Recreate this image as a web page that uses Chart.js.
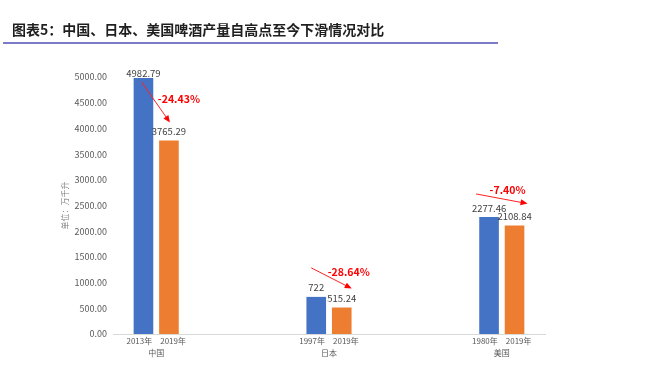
<!DOCTYPE html>
<html>
<head>
<meta charset="utf-8">
<script src="https://cdn.jsdelivr.net/npm/chart.js@4/dist/chart.umd.min.js"></script>
<style>
  body { margin: 0; background: #fff; }
  #wrap { position: relative; width: 649px; height: 367px; }
  #title {
    position: absolute; left: 12px; top: 19px;
    font: bold 14px "Noto Sans CJK SC", sans-serif; color: #1f1f1f;
    white-space: nowrap;
  }
  #rule { position: absolute; left: 3px; top: 42px; width: 495px; height: 2px; background: #7b7bc8; }
  #chart { position: absolute; left: 0; top: 0; }
</style>
</head>
<body>
<div id="wrap">
  <canvas id="chart" width="649" height="367"></canvas>
  <div id="title">图表5：中国、日本、美国啤酒产量自高点至今下滑情况对比</div>
  <div id="rule"></div>
</div>
<script>
// 数据
const countries = ['中国', '日本', '美国'];
const peakYears = ['2013年', '1997年', '1980年'];
const latestYears = ['2019年', '2019年', '2019年'];
const peakValues = [4982.79, 722, 2277.46];
const latestValues = [3765.29, 515.24, 2108.84];
const changeLabels = ['-24.43%', '-28.64%', '-7.40%'];
const yTicks = [0, 500, 1000, 1500, 2000, 2500, 3000, 3500, 4000, 4500, 5000];

// 每个国家之间留一个空位
const labels = [];
const peakData = [];
const latestData = [];
countries.forEach((c, i) => {
    if (i > 0) {
        labels.push(['', '']);
        peakData.push(null);
        latestData.push(null);
    }
    labels.push([peakYears[i] + '\u2003' + latestYears[i], c]);
    peakData.push(peakValues[i]);
    latestData.push(latestValues[i]);
});

// 柱顶数值标签
const valueLabels = {
    id: 'valueLabels',
    afterDatasetsDraw(chart) {
        const ctx = chart.ctx;
        ctx.save();
        ctx.font = '9.5px "Noto Sans CJK SC", sans-serif';
        ctx.fillStyle = '#404040';
        ctx.textAlign = 'center';
        ctx.textBaseline = 'middle';
        chart.data.datasets.forEach((ds, di) => {
            chart.getDatasetMeta(di).data.forEach((bar, j) => {
                if (ds.data[j] == null) return;
                const dy = ds.data[j] > 4500 ? 4 : 9;
                ctx.fillText(String(ds.data[j]), bar.x, bar.y - dy);
            });
        });
        ctx.restore();
    }
};

// 红色箭头 + 跌幅
const arrows = {
    id: 'arrows',
    afterDraw(chart) {
        const ctx = chart.ctx;
        const offsets = [
            { s: [-2, 4], e: [1, -18], t: [10, -41] },
            { s: [-5, -29], e: [10, -19], t: [7, -36] },
            { s: [-13, -23], e: [13, -22], t: [-7, -36] }
        ];
        const b0 = chart.getDatasetMeta(0).data;
        const b1 = chart.getDatasetMeta(1).data;
        ctx.save();
        countries.forEach((c, i) => {
            const p = b0[i * 2], q = b1[i * 2], o = offsets[i];
            const x1 = p.x + o.s[0], y1 = p.y + o.s[1];
            const x2 = q.x + o.e[0], y2 = q.y + o.e[1];
            const ang = Math.atan2(y2 - y1, x2 - x1);
            ctx.strokeStyle = '#ff2020';
            ctx.fillStyle = '#ff0000';
            ctx.lineWidth = 1;
            ctx.beginPath();
            ctx.moveTo(x1, y1);
            ctx.lineTo(x2 - 5 * Math.cos(ang), y2 - 5 * Math.sin(ang));
            ctx.stroke();
            ctx.beginPath();
            ctx.moveTo(x2, y2);
            ctx.lineTo(x2 - 7 * Math.cos(ang) + 3 * Math.sin(ang), y2 - 7 * Math.sin(ang) - 3 * Math.cos(ang));
            ctx.lineTo(x2 - 7 * Math.cos(ang) - 3 * Math.sin(ang), y2 - 7 * Math.sin(ang) + 3 * Math.cos(ang));
            ctx.closePath();
            ctx.fill();
            ctx.font = 'bold 10.5px "Noto Sans CJK SC", sans-serif';
            ctx.textAlign = 'center';
            ctx.textBaseline = 'middle';
            ctx.fillText(changeLabels[i], q.x + o.t[0], q.y + o.t[1]);
        });
        ctx.restore();
    }
};

new Chart(document.getElementById('chart'), {
    type: 'bar',
    data: {
        labels: labels,
        datasets: [
            { data: peakData, backgroundColor: '#4472c4' },
            { data: latestData, backgroundColor: '#ed7d31' }
        ]
    },
    options: {
        responsive: false,
        animation: false,
        layout: { padding: { left: 0, right: 104, top: 77, bottom: 0 } },
        categoryPercentage: 0.59,
        barPercentage: 0.77,
        plugins: {
            legend: { display: false },
            tooltip: { enabled: false }
        },
        scales: {
            x: {
                grid: { display: false, drawTicks: false },
                border: { color: '#d9d9d9', width: 1 },
                ticks: {
                    autoSkip: false,
                    maxRotation: 0,
                    padding: 1,
                    color: '#595959',
                    font: { family: '"Noto Sans CJK SC", sans-serif', size: 8, lineHeight: 1.5 }
                },
                afterFit: s => { s.height = 33; }
            },
            y: {
                min: 0,
                max: 5000,
                afterBuildTicks: s => { s.ticks = yTicks.map(v => ({ value: v })); },
                grid: { display: false, drawTicks: false },
                border: { display: false },
                ticks: {
                    padding: 6,
                    color: '#595959',
                    font: { family: '"Noto Sans CJK SC", sans-serif', size: 9 },
                    callback: v => v.toFixed(2)
                },
                title: {
                    display: true,
                    text: '单位：万千升',
                    color: '#808080',
                    padding: { top: 60, bottom: 0 },
                    font: { family: '"Noto Sans CJK SC", sans-serif', size: 8 }
                },
                afterFit: s => { s.width = 113; }
            }
        }
    },
    plugins: [valueLabels, arrows]
});
</script>
</body>
</html>
